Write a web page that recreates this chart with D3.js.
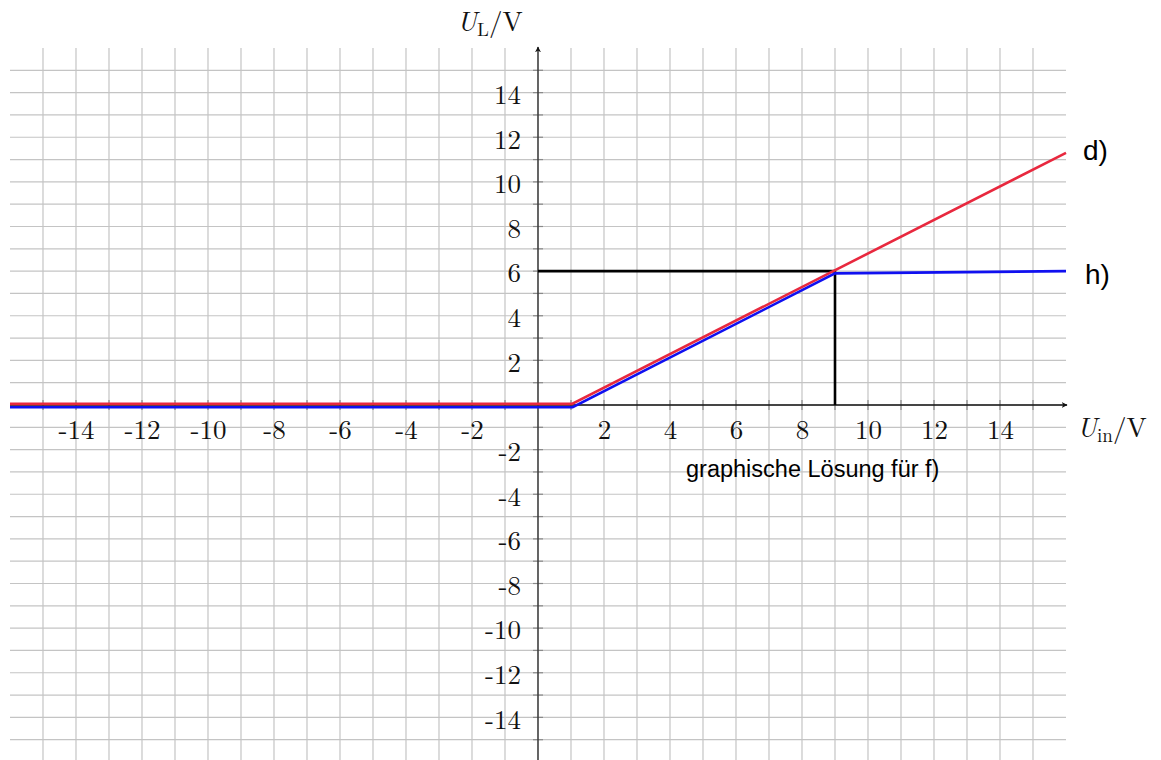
<!DOCTYPE html>
<html>
<head>
<meta charset="utf-8">
<script src="https://cdn.jsdelivr.net/npm/d3@7"></script>
<style>
  body { margin: 0; background: #fff; }
  .tick text { font-family: "Latin Modern Roman", "Liberation Serif", serif; }
</style>
</head>
<body>
<div id="chart"></div>
<script>
// data
var xTicks = [-14, -12, -10, -8, -6, -4, -2, 2, 4, 6, 8, 10, 12, 14];
var yTicks = [-14, -12, -10, -8, -6, -4, -2, 2, 4, 6, 8, 10, 12, 14];
var curveD = [[-16, 0.05], [1.03, 0.05], [16, 11.3]];          // red, d)
var curveH = [[-16, -0.1], [1.05, -0.1], [9, 5.9], [16, 6.0]];  // blue, h)
var helperLines = [[[0, 6], [9, 6]], [[9, 6], [9, 0]]];        // graphische Loesung

var width = 1161, height = 760;

var svg = d3.select("#chart")
    .append("svg")
    .attr("width", width)
    .attr("height", height);

var x = d3.scaleLinear().domain([-16, 16]).range([10, 1066]);
var y = d3.scaleLinear().domain([-16, 16]).range([762, 48]);

//grid
var grid = svg.append("g").attr("stroke", "#c4c4c4").attr("stroke-width", 1.2);
d3.range(-15, 16).forEach(function(v) {
  grid.append("line")
      .attr("x1", x(v)).attr("x2", x(v))
      .attr("y1", y(16)).attr("y2", y(-16));
  grid.append("line")
      .attr("y1", y(v)).attr("y2", y(v))
      .attr("x1", x(-16)).attr("x2", x(16));
});

//small ticks on both axes
var ticks = svg.append("g").attr("stroke", "#8a8a8a").attr("stroke-width", 1.2);
d3.range(-15, 16).forEach(function(v) {
  if (v === 0) return;
  ticks.append("line")
      .attr("x1", x(v)).attr("x2", x(v))
      .attr("y1", y(0) - 5).attr("y2", y(0) + 5);
  ticks.append("line")
      .attr("y1", y(v)).attr("y2", y(v))
      .attr("x1", x(0) - 5).attr("x2", x(0) + 5);
});

// arrow head
svg.append("defs").append("marker")
    .attr("id", "arrow")
    .attr("viewBox", "0 0 10 10")
    .attr("refX", 9).attr("refY", 5)
    .attr("markerWidth", 6).attr("markerHeight", 6)
    .attr("markerUnits", "userSpaceOnUse")
    .attr("orient", "auto")
    .append("path")
    .attr("d", "M0,0 L10,5 L0,10 L3,5 Z")
    .attr("fill", "#111");

//axes
svg.append("line")
    .attr("x1", x(-16)).attr("x2", x(16) + 1)
    .attr("y1", y(0)).attr("y2", y(0))
    .attr("stroke", "#111").attr("stroke-width", 1.4)
    .attr("marker-end", "url(#arrow)");
svg.append("line")
    .attr("x1", x(0)).attr("x2", x(0))
    .attr("y1", y(-16)).attr("y2", y(16) - 1)
    .attr("stroke", "#333").attr("stroke-width", 1.4)
    .attr("marker-end", "url(#arrow)");

//tick labels via d3 axes, no domain or tick lines
var xAxis = d3.axisBottom(x).tickValues(xTicks).tickSize(0).tickPadding(15)
    .tickFormat(function(d) { return d; });
var gx = svg.append("g")
    .attr("transform", "translate(0," + y(0) + ")")
    .call(xAxis);
gx.select(".domain").remove();
gx.selectAll("text").attr("font-size", 27).attr("fill", "#111");

var yAxis = d3.axisLeft(y).tickValues(yTicks).tickSize(0).tickPadding(17)
    .tickFormat(function(d) { return d; });
var gy = svg.append("g")
    .attr("transform", "translate(" + x(0) + ",0)")
    .call(yAxis);
gy.select(".domain").remove();
gy.selectAll("text").attr("font-size", 27).attr("fill", "#111").attr("dy", "0.4em");

//curves
var line = d3.line()
    .x(function(d) { return x(d[0]); })
    .y(function(d) { return y(d[1]); });

helperLines.forEach(function(l) {
  svg.append("path")
      .attr("d", line(l))
      .attr("fill", "none")
      .attr("stroke", "#000")
      .attr("stroke-width", 2.6);
});

svg.append("path")
    .datum(curveD)
    .attr("d", line)
    .attr("fill", "none")
    .attr("stroke", "#e8283e")
    .attr("stroke-width", 2.6);

svg.append("path")
    .datum(curveH)
    .attr("d", line)
    .attr("fill", "none")
    .attr("stroke", "#1010f0")
    .attr("stroke-width", 2.6);

// axis titles
var serif = '"Latin Modern Roman", "Liberation Serif", serif';
var t1 = svg.append("text")
    .attr("x", 457).attr("y", 31)
    .attr("font-family", serif).attr("font-size", 27).attr("fill", "#111");
t1.append("tspan").attr("font-style", "italic").text("U");
t1.append("tspan").attr("font-size", 19).attr("dy", 5).text("L");
t1.append("tspan").attr("dy", -5).text("/V");

var t2 = svg.append("text")
    .attr("x", 1077).attr("y", 437)
    .attr("font-family", serif).attr("font-size", 27).attr("fill", "#111");
t2.append("tspan").attr("font-style", "italic").text("U");
t2.append("tspan").attr("font-size", 19).attr("dy", 5).text("in");
t2.append("tspan").attr("dy", -5).text("/V");

// curve labels
var sans = '"Liberation Sans", Arial, sans-serif';
svg.append("text").attr("x", 1083).attr("y", 160)
    .attr("font-family", sans).attr("font-size", 28).text("d)");
svg.append("text").attr("x", 1085).attr("y", 284)
    .attr("font-family", sans).attr("font-size", 28).text("h)");
svg.append("text").attr("x", 686).attr("y", 477)
    .attr("font-family", sans).attr("font-size", 23.5).text("graphische Lösung für f)");
</script>
</body>
</html>
